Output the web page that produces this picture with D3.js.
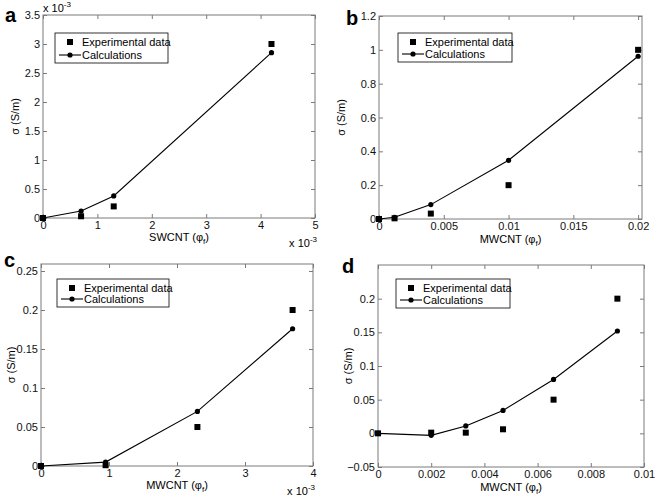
<!DOCTYPE html>
<html><head><meta charset="utf-8">
<script src="https://cdn.jsdelivr.net/npm/d3@7"></script>
<style>body{margin:0;background:#fff}svg{display:block}text{font-family:"Liberation Sans",Arial,sans-serif}</style>
</head><body>
<script>
// Panel a (x and y in units of 1e-3)
const aX = [0, 0.7, 1.3, 4.2];
const aExp = [0, 0.03, 0.2, 3.0];
const aCalc = [0, 0.12, 0.38, 2.85];
const aXTicks = [0, 1, 2, 3, 4, 5];
const aYTicks = [0, 0.5, 1, 1.5, 2, 2.5, 3, 3.5];
// Panel b
const bX = [0, 0.0012, 0.004, 0.01, 0.02];
const bExp = [0, 0.004, 0.032, 0.2, 1.0];
const bCalc = [0, 0.01, 0.085, 0.347, 0.962];
const bXTicks = [0, 0.005, 0.01, 0.015, 0.02];
const bYTicks = [0, 0.2, 0.4, 0.6, 0.8, 1, 1.2];
// Panel c (x in units of 1e-3)
const cX = [0, 0.95, 2.3, 3.7];
const cExp = [0, 0.001, 0.05, 0.2];
const cCalc = [0, 0.005, 0.07, 0.176];
const cXTicks = [0, 1, 2, 3, 4];
const cYTicks = [0, 0.05, 0.1, 0.15, 0.2, 0.25];
// Panel d
const dX = [0, 0.002, 0.0033, 0.0047, 0.0066, 0.009];
const dExp = [0, 0.001, 0.001, 0.006, 0.05, 0.2];
const dCalc = [0, -0.003, 0.011, 0.034, 0.08, 0.152];
const dXTicks = [0, 0.002, 0.004, 0.006, 0.008, 0.01];
const dYTicks = [-0.05, 0, 0.05, 0.1, 0.15, 0.2];

const legendLabels = ["Experimental data", "Calculations"];
const yLabel = "σ (S/m)";

const svg = d3.select("body").append("svg").attr("width", 661).attr("height", 497);

const panels = [
  {letter:"a", lx:5, ly:22, box:[43,315,15,218], xd:[0,5], yd:[0,3.5], x:aX, e:aExp, c:aCalc, xt:aXTicks, yt:aYTicks,
   xname:"SWCNT", xlabY:241, ylabX:15, expTop:true, expBot:true, leg:[55,33,113,30]},
  {letter:"b", lx:346, ly:25, box:[379,642,16,219], xd:[0,0.0203], yd:[0,1.2], x:bX, e:bExp, c:bCalc, xt:bXTicks, yt:bYTicks,
   xname:"MWCNT", xlabY:243, ylabX:341, leg:[398,33,114,29]},
  {letter:"c", lx:4, ly:267, box:[41,313,264,466], xd:[0,4], yd:[0,0.259], x:cX, e:cExp, c:cCalc, xt:cXTicks, yt:cYTicks,
   xname:"MWCNT", xlabY:489, ylabX:11, expBot:true, leg:[57,279,112,28]},
  {letter:"d", lx:342, ly:273, box:[378,644,265,467], xd:[0,0.01], yd:[-0.05,0.25], x:dX, e:dExp, c:dCalc, xt:dXTicks, yt:dYTicks,
   xname:"MWCNT", xlabY:491, ylabX:348, leg:[396,279,114,29]}
];

const fmt = d3.format("~g");
const axisCol = "#7a7a7a";
panels.forEach(p => {
  const [L,R,T,B] = p.box;
  const x = d3.scaleLinear().domain(p.xd).range([L,R]);
  const y = d3.scaleLinear().domain(p.yd).range([B,T]);
  const g = svg.append("g");
  g.append("rect").attr("x",L).attr("y",T).attr("width",R-L).attr("height",B-T)
    .attr("fill","none").attr("stroke",axisCol).attr("stroke-width",1);
  const xa = g.append("g").attr("transform",`translate(0,${B})`)
    .call(d3.axisBottom(x).tickValues(p.xt).tickFormat(fmt).tickSizeInner(-4).tickSizeOuter(0).tickPadding(3));
  const xaT = g.append("g").attr("transform",`translate(0,${T})`)
    .call(d3.axisTop(x).tickValues(p.xt).tickFormat("").tickSizeInner(-4).tickSizeOuter(0));
  const ya = g.append("g").attr("transform",`translate(${L},0)`)
    .call(d3.axisLeft(y).tickValues(p.yt).tickFormat(fmt).tickSizeInner(-4).tickSizeOuter(0).tickPadding(3));
  const yaR = g.append("g").attr("transform",`translate(${R},0)`)
    .call(d3.axisRight(y).tickValues(p.yt).tickFormat("").tickSizeInner(-4).tickSizeOuter(0));
  [xa,xaT,ya,yaR].forEach(a => {
    a.select(".domain").remove();
    a.selectAll("line").attr("stroke",axisCol);
    a.selectAll("text").attr("font-size",11).attr("fill","#111");
  });
  const pts = p.x.map((v,i)=>[v,p.c[i]]);
  g.append("path").datum(pts).attr("fill","none").attr("stroke","#000").attr("stroke-width",1.1)
    .attr("d", d3.line().x(d=>x(d[0])).y(d=>y(d[1])));
  g.selectAll("circle.calc").data(pts).join("circle").attr("cx",d=>x(d[0])).attr("cy",d=>y(d[1])).attr("r",2.6).attr("fill","#000");
  const ex = p.x.map((v,i)=>[v,p.e[i]]);
  g.selectAll("rect.exp").data(ex).join("rect").attr("x",d=>x(d[0])-3).attr("y",d=>y(d[1])-3).attr("width",6).attr("height",6).attr("fill","#000");
  svg.append("text").attr("x",p.lx).attr("y",p.ly).text(p.letter)
    .attr("font-family","'Liberation Serif','Times New Roman',serif").attr("font-weight","bold").attr("font-size",20);
  svg.append("text").attr("transform",`translate(${p.ylabX + 4},${(T+B)/2}) rotate(-90)`).attr("text-anchor","middle")
    .attr("font-size",11).text(yLabel);
  const xl = svg.append("text").attr("x",(L+R)/2).attr("y",p.xlabY).attr("text-anchor","middle").attr("font-size",11);
  xl.append("tspan").text(p.xname + " (φ");
  xl.append("tspan").attr("font-size",8).attr("dy",3).text("f");
  xl.append("tspan").attr("dy",-3).text(")");
  function expo(xx,yy,anchor){
    const t = svg.append("text").attr("x",xx).attr("y",yy).attr("font-size",11).attr("text-anchor",anchor);
    t.append("tspan").text("x 10");
    t.append("tspan").attr("font-size",8).attr("dy",-5).text("-3");
  }
  if (p.expTop) expo(L,T-3,"start");
  if (p.expBot) expo(R+2,B+29,"end");
  const [gx,gy,gw,gh] = p.leg;
  const lg = svg.append("g");
  lg.append("rect").attr("x",gx).attr("y",gy).attr("width",gw).attr("height",gh).attr("fill","#fff").attr("stroke","#000").attr("stroke-width",0.8);
  lg.append("rect").attr("x",gx+12).attr("y",gy+6).attr("width",6).attr("height",6).attr("fill","#000");
  lg.append("line").attr("x1",gx+4).attr("x2",gx+26).attr("y1",gy+gh-8).attr("y2",gy+gh-8).attr("stroke","#000").attr("stroke-width",1.1);
  lg.append("circle").attr("cx",gx+15).attr("cy",gy+gh-8).attr("r",2.6).attr("fill","#000");
  lg.append("text").attr("x",gx+27).attr("y",gy+13).attr("font-size",11).text(legendLabels[0]);
  lg.append("text").attr("x",gx+27).attr("y",gy+gh-4).attr("font-size",11).text(legendLabels[1]);
});
</script>
</body></html>
